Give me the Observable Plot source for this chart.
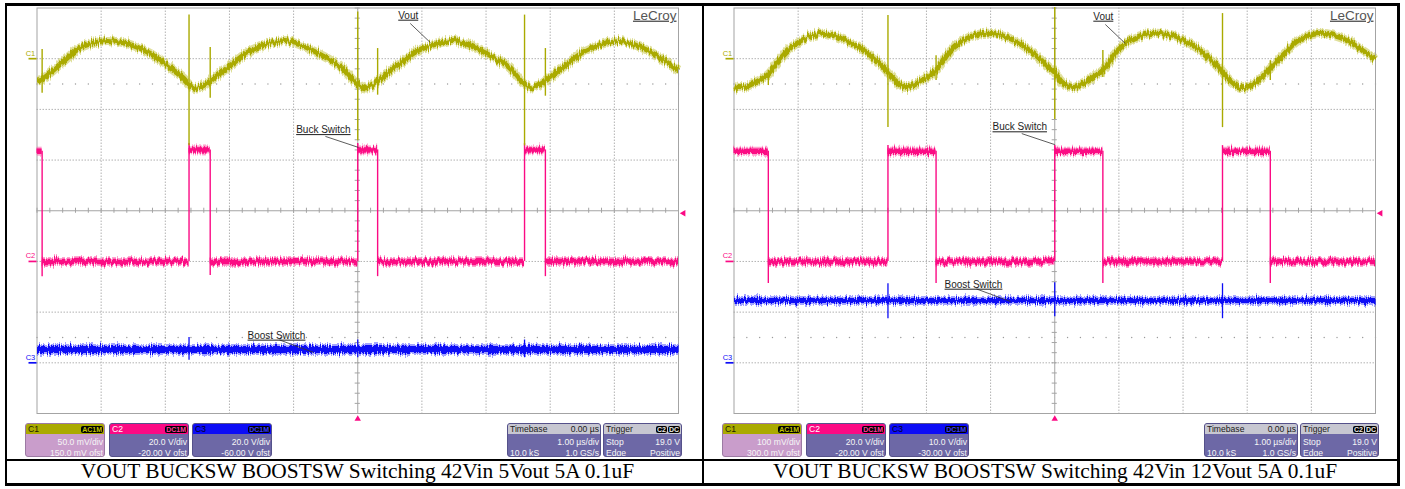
<!DOCTYPE html>
<html>
<head>
<meta charset="utf-8">
<script src="https://cdn.jsdelivr.net/npm/d3@7"></script>
<script src="https://cdn.jsdelivr.net/npm/@observablehq/plot@0.6"></script>
<style>
  html, body { margin: 0; padding: 0; background: #fff; }
  #page { position: relative; width: 1405px; height: 489px; overflow: hidden; font-family: "Liberation Sans", Arial, sans-serif; }
  .panel { position: absolute; top: 0; width: 700px; height: 460px; }
  .panel > svg { position: absolute; left: 0; top: 0; overflow: visible; }
  .box { position: absolute; top: 423px; height: 34px; border-radius: 3px; overflow: hidden; box-sizing: border-box;
         border: 1px solid #55518a; background: #6d68a6; color: #f6f6f6; font-size: 8.6px; }
  .box.c1 { background: #c99dcb; border-color: #9c7aa3; }
  .box .hd { position: absolute; left: 0; right: 0; top: 0; height: 10px; line-height: 10px; }
  .box .row { position: absolute; left: 0; right: 0; height: 11px; line-height: 11px; }
  .box .r1 { top: 13px; }
  .box .r2 { top: 24px; }
  .l { position: absolute; left: 2px; }
  .r { position: absolute; right: 1px; }
  .badge { position: absolute; top: 2px; height: 7px; line-height: 7px; background: #000; border-radius: 2px;
           font-size: 7px; font-weight: bold; padding: 0 1px; }
  .bar { position: absolute; background: #000; z-index: 5; }
  .cap { position: absolute; top: 460px; height: 22px; line-height: 22px; text-align: center;
         font-family: "Liberation Serif", "Times New Roman", serif; font-size: 21.4px; color: #000; white-space: nowrap; }
</style>
</head>
<body>
<div id="page">
  <div class="panel" id="panelL" style="left:0px"></div>
  <div class="panel" id="panelR" style="left:697px"></div>
</div>
<script>
// ---------- channel settings (scale per division, offset) ----------
const chanL = [
  {id: "C1", coupling: "AC1M", vdiv: 50, ofst: 150, scaleText: "50.0 mV/div", ofstText: "150.0 mV ofst"},
  {id: "C2", coupling: "DC1M", vdiv: 20, ofst: -20, scaleText: "20.0 V/div", ofstText: "-20.00 V ofst"},
  {id: "C3", coupling: "DC1M", vdiv: 20, ofst: -60, scaleText: "20.0 V/div", ofstText: "-60.00 V ofst"}
];
const chanR = [
  {id: "C1", coupling: "AC1M", vdiv: 100, ofst: 300, scaleText: "100 mV/div", ofstText: "300.0 mV ofst"},
  {id: "C2", coupling: "DC1M", vdiv: 20, ofst: -20, scaleText: "20.0 V/div", ofstText: "-20.00 V ofst"},
  {id: "C3", coupling: "DC1M", vdiv: 10, ofst: -30, scaleText: "10.0 V/div", ofstText: "-30.00 V ofst"}
];
const timebase = {delay: "0.00 µs", scale: "1.00 µs/div", samples: "10.0 kS", rate: "1.0 GS/s"};
const trigger = {src: "C2", coupling: "DC", mode: "Stop", level: 19.0, levelText: "19.0 V", type: "Edge", slope: "Positive"};
const captions = [
  "VOUT BUCKSW BOOSTSW Switching 42Vin 5Vout 5A 0.1uF",
  "VOUT BUCKSW BOOSTSW Switching 42Vin 12Vout 5A 0.1uF"
];

// ---------- 5 Vout capture: [time µs, value] ----------
const voutL = [ // mV (AC)
  [-5.00,-21],[-4.92,-20],[-4.63,-5],[-4.32,11],[-4.01,17],[-3.90,18],[-3.50,13],[-3.23,5],[-2.97,-7],[-2.72,-19],
  [-2.63,-25],[-2.50,-29],[-2.39,-26],[-2.30,-22],[-2.03,-9],[-1.67,8],[-1.31,16],[-1.14,18],[-0.91,14],[-0.58,4],[-0.27,-8],[-0.03,-24],
  [0.00,-25],[0.12,-29],[0.23,-26],[0.31,-22],[0.58,-9],[0.94,8],[1.31,16],[1.48,18],[1.71,14],[2.04,4],[2.35,-8],[2.57,-24],
  [2.60,-25],[2.72,-29],[2.83,-26],[2.925,-22],[3.19,-9],[3.55,8],[3.90,16],[4.08,18],[4.31,14],[4.64,4],[5.00,-12]
];
const voutSpikesL = [ // mV
  {t:-4.92, lo:-34, hi:9}, {t:-2.63, lo:-86, hi:43}, {t:-2.30, lo:-39, hi:11}, {t:0, lo:-81, hi:46},
  {t:0.31, lo:-36, hi:10}, {t:2.60, lo:-86, hi:43}, {t:2.925, lo:-37, hi:10}
];
const buckLevelsL = [ // V: [start µs, end µs, level]
  [-5.00,-4.92,43.5],[-4.92,-2.63,0],[-2.63,-2.30,44],[-2.30,0,0],[0,0.31,44],[0.31,2.60,0],[2.60,2.925,44],[2.925,5.00,0]
];
const buckEdgesL = [ // V
  {t:-4.92, lo:-6, hi:43.5}, {t:-2.63, lo:0, hi:46.5}, {t:-2.30, lo:-5.5, hi:44}, {t:0, lo:0, hi:46.5},
  {t:0.31, lo:-6, hi:44}, {t:2.60, lo:0, hi:46.5}, {t:2.925, lo:-6, hi:44}
];
const boostL = [[-5.00, 5.3], [5.00, 5.3]]; // V
const boostSpikesL = [{t:-2.63, lo:1, hi:10}, {t:0, lo:2, hi:9}, {t:2.60, lo:2, hi:9}];
const annoL = [
  {label: "Vout", ch: 0, t: 1.13, v: 16},
  {label: "Buck Switch", ch: 1, t: 0.01, v: 45},
  {label: "Boost Switch", ch: 2, t: -0.69, v: 4.1}
];

// ---------- 12 Vout capture ----------
const voutR = [ // mV (AC)
  [-5.00,-55],[-4.85,-57],[-4.72,-50],[-4.465,-31],[-4.28,0],[-4.07,26],[-3.65,50],[-3.26,36],[-2.95,14],[-2.71,-12],
  [-2.60,-27],[-2.45,-47],[-2.31,-57],[-2.12,-47],[-1.85,-23],[-1.62,16],[-1.37,40],[-1.03,50],[-0.63,36],[-0.35,12],[-0.07,-19],
  [0.00,-27],[0.12,-47],[0.29,-57],[0.45,-47],[0.75,-23],[0.98,16],[1.23,40],[1.60,50],[2.01,36],[2.27,16],[2.53,-13],
  [2.615,-27],[2.79,-49],[2.90,-57],[3.13,-47],[3.36,-19],[3.55,6],[3.80,36],[4.17,50],[4.55,36],[4.80,16],[5.00,-2]
];
const voutSpikesR = [ // mV
  {t:-4.465, lo:-53, hi:-23}, {t:-2.60, lo:-136, hi:85}, {t:-1.85, lo:-43, hi:6}, {t:0, lo:-120, hi:101},
  {t:0.75, lo:-37, hi:16}, {t:2.615, lo:-136, hi:89}, {t:3.36, lo:-43, hi:-4}
];
const buckLevelsR = [ // V
  [-5.00,-4.465,43.5],[-4.465,-2.60,0],[-2.60,-1.85,43.5],[-1.85,0,0],[0,0.75,43.5],[0.75,2.615,0],[2.615,3.36,43.5],[3.36,5.00,0]
];
const buckEdgesR = [ // V
  {t:-4.465, lo:-8.7, hi:43.5}, {t:-2.60, lo:0, hi:45.7}, {t:-1.85, lo:-8.7, hi:43.5}, {t:0, lo:0, hi:45.7},
  {t:0.75, lo:-8.7, hi:43.5}, {t:2.615, lo:0, hi:45.7}, {t:3.36, lo:-8.7, hi:43.5}
];
const boostR = [[-5.00, 12.3], [5.00, 12.3]]; // V
const boostSpikesR = [{t:-2.60, lo:8.7, hi:15.6}, {t:0, lo:9.1, hi:15.8}, {t:2.615, lo:8.7, hi:15.6}];
const annoR = [
  {label: "Vout", ch: 0, t: 1.10, v: 30},
  {label: "Buck Switch", ch: 1, t: 0, v: 46.1},
  {label: "Boost Switch", ch: 2, t: -0.69, v: 12.1}
];

// ---------- graticule ----------
const majorT = [-4, -3, -2, -1, 1, 2, 3, 4];
const majorDiv = [-3, -2, -1, 1, 2, 3];
const minorT = d3.range(-50, 51, 2).map(d => d / 10);
const minorDiv = d3.range(-40, 41, 2).map(d => d / 10);
const halfRows = [2.5, -2.5];

// ---------- styling ----------
const colors = ["#aaaa00", "#fb0a84", "#0c0cf6"];
const halo = ["#c6c64a", "#ff5aa8", "#5a5aff"];
const W = 700, H = 460, ML = 36.5, MR = 22, MT = 7.5, MB = 47;
const pxPerUs = (W - ML - MR) / 10, pxPerDiv = (H - MT - MB) / 8;
const annoLayout = { // label centre and leader start, px from the pointed sample
  "Vout": {tx: -22, ty: -27, lx: -20, ly: -19},
  "Buck Switch": {tx: -35, ty: -17.5, lx: -33, ly: -11},
  "Boost Switch": {tx: -37, ty: -17, lx: -34, ly: -12.5}
};
const font = "Liberation Sans, Arial, sans-serif";
const labelFont = "Liberation Sans, Arial, Helvetica, sans-serif"; // underlined labels
const BAND = 7; // stroke-miterlimit tag on the jittered trace bands

function scopePanel(cfg) {
  const {chans, vout, voutSpikes, buckLevels, buckEdges, boost, boostSpikes, anno, boostWidth, noiseId} = cfg;
  const div = (ch, v) => (v + chans[ch].ofst) / chans[ch].vdiv;
  const grid = "#b2b2b2", axisGrey = "#a4a4a4";
  const band = {strokeMiterlimit: BAND, strokeLinecap: "butt"};

  const annoPts = anno.map(a => {
    const L = annoLayout[a.label], y = div(a.ch, a.v);
    return {label: a.label, x: a.t, y,
      tx: a.t + L.tx / pxPerUs, ty: y - L.ty / pxPerDiv,
      lx: a.t + L.lx / pxPerUs, ly: y - L.ly / pxPerDiv};
  });

  const chanMarks = chans.flatMap((c, i) => {
    const m = [{y: c.ofst / c.vdiv, id: c.id}];
    return [
      Plot.ruleY(m, {y: "y", x1: -5 - 8 / pxPerUs, x2: -5, stroke: colors[i], strokeWidth: 1.7}),
      Plot.text(m, {x: -5, y: "y", text: "id", dx: -6.5, dy: -5.5, fontSize: 7.5, fill: colors[i], fontFamily: font})
    ];
  });

  const dotsRows = halfRows.flatMap(r => minorT.map(t => ({t, r})));

  const svg = Plot.plot({
    width: W, height: H, marginLeft: ML, marginRight: MR, marginTop: MT, marginBottom: MB,
    x: {domain: [-5, 5], axis: null},
    y: {domain: [-4, 4], axis: null},
    style: {background: "transparent", overflow: "visible"},
    marks: [
      // graticule
      Plot.ruleX(majorT, {stroke: grid, strokeDasharray: "1.5,1.5"}),
      Plot.ruleY(majorDiv, {stroke: grid, strokeDasharray: "1.5,1.5"}),
      Plot.dot(dotsRows, {x: "t", y: "r", r: 0.7, fill: "#9a9a9a", stroke: null}),
      Plot.ruleX([0], {stroke: axisGrey}),
      Plot.ruleY([0], {stroke: axisGrey}),
      Plot.ruleX(minorT, {y1: -0.05, y2: 0.05, stroke: axisGrey}),
      Plot.ruleY(minorDiv, {x1: -0.04, x2: 0.04, stroke: axisGrey}),
      Plot.frame({stroke: axisGrey}),

      // C3 boost switch node
      Plot.line(boost, {x: d => d[0], y: d => div(2, d[1]), stroke: halo[2], strokeOpacity: 0.55, strokeWidth: boostWidth + 4, ...band}),
      Plot.line(boost, {x: d => d[0], y: d => div(2, d[1]), stroke: colors[2], strokeWidth: boostWidth, ...band}),
      Plot.ruleX(boostSpikes, {x: "t", y1: d => div(2, d.lo), y2: d => div(2, d.hi), stroke: colors[2], strokeWidth: 1.3}),

      // C2 buck switch node
      Plot.ruleY(buckLevels, {y: d => div(1, d[2]), x1: d => d[0], x2: d => d[1], stroke: halo[1], strokeOpacity: 0.55, strokeWidth: 9, ...band}),
      Plot.ruleY(buckLevels, {y: d => div(1, d[2]), x1: d => d[0], x2: d => d[1], stroke: colors[1], strokeWidth: 5.5, ...band}),
      Plot.ruleX(buckEdges, {x: "t", y1: d => div(1, d.lo), y2: d => div(1, d.hi), stroke: colors[1], strokeWidth: 1.4}),

      // C1 output ripple
      Plot.line(vout, {x: d => d[0], y: d => div(0, d[1]), curve: "catmull-rom", stroke: halo[0], strokeOpacity: 0.55, strokeWidth: 9, ...band}),
      Plot.line(vout, {x: d => d[0], y: d => div(0, d[1]), curve: "catmull-rom", stroke: colors[0], strokeWidth: 5, ...band}),
      Plot.ruleX(voutSpikes, {x: "t", y1: d => div(0, d.lo), y2: d => div(0, d.hi), stroke: colors[0], strokeWidth: 1.4}),

      // channel ground markers
      ...chanMarks,

      // trigger position and level
      Plot.dot([trigger], {x: 0, y: -4, dy: 5.5, symbol: "triangle", r: 2.4, fill: colors[1], stroke: null}),
      Plot.dot([trigger], {x: 5, y: div(1, trigger.level), dx: 5, symbol: "triangle", rotate: -90, r: 2.4, fill: colors[1], stroke: null}),

      // trace labels
      Plot.link(annoPts, {x1: "lx", y1: "ly", x2: "x", y2: "y", stroke: "#333", strokeWidth: 0.8}),
      Plot.text(annoPts, {x: "tx", y: "ty", text: "label", fontSize: 10, fill: "#1e1e1e", fontFamily: labelFont}),

      Plot.text(["LeCroy"], {frameAnchor: "top-right", dx: -2, dy: 2, textAnchor: "end", lineAnchor: "top", fontSize: 13.5, fill: "#555555", fontFamily: labelFont})
    ]
  });

  // scope-style vertical jitter on the trace bands
  const s = d3.select(svg);
  const f = s.insert("defs", ":first-child").append("filter")
    .attr("id", noiseId).attr("filterUnits", "userSpaceOnUse")
    .attr("x", 0).attr("y", 0).attr("width", W).attr("height", H);
  f.append("feTurbulence").attr("type", "fractalNoise").attr("baseFrequency", "0.9 0.04")
    .attr("numOctaves", 2).attr("seed", noiseId === "noiseL" ? 3 : 11).attr("result", "n");
  f.append("feColorMatrix").attr("in", "n").attr("type", "matrix")
    .attr("values", "0 0 0 0 0.5  0 1 0 0 0  0 0 0 0 0  0 0 0 0 1").attr("result", "m");
  f.append("feDisplacementMap").attr("in", "SourceGraphic").attr("in2", "m").attr("scale", 9)
    .attr("xChannelSelector", "R").attr("yChannelSelector", "G");
  s.selectAll(`g[stroke-miterlimit="${BAND}"]`).attr("filter", `url(#${noiseId})`);
  s.selectAll(`g[font-family="${labelFont}"] text`).style("text-decoration", "underline");
  return svg;
}

// info boxes along the bottom of the screen
function infoBoxes(container, chans) {
  const chanX = [25, 109, 192];
  const hdText = ["#1b1b00", "#ffffff", "#000018"];
  const badgeText = ["#c2c200", "#ff3d9e", "#3a3aff"];
  chans.forEach((c, i) => {
    const b = document.createElement("div");
    b.className = "box" + (i === 0 ? " c1" : "");
    b.style.left = chanX[i] + "px";
    b.style.width = "80px";
    b.innerHTML =
      `<div class="hd" style="background:${colors[i]}"><span class="l" style="color:${hdText[i]}">${c.id}</span>` +
      `<span class="badge" style="right:1px;color:${badgeText[i]}">${c.coupling}</span></div>` +
      `<div class="row r1"><span class="r">${c.scaleText}</span></div>` +
      `<div class="row r2"><span class="r">${c.ofstText}</span></div>`;
    container.appendChild(b);
  });
  const tb = document.createElement("div");
  tb.className = "box";
  tb.style.left = "507px"; tb.style.width = "94px";
  tb.innerHTML =
    `<div class="hd" style="background:#c7c7d1;color:#202020"><span class="l">Timebase</span><span class="r">${timebase.delay}</span></div>` +
    `<div class="row r1"><span class="r">${timebase.scale}</span></div>` +
    `<div class="row r2"><span class="l">${timebase.samples}</span><span class="r">${timebase.rate}</span></div>`;
  container.appendChild(tb);
  const tr = document.createElement("div");
  tr.className = "box";
  tr.style.left = "603px"; tr.style.width = "79px";
  tr.innerHTML =
    `<div class="hd" style="background:#c7c7d1;color:#202020"><span class="l">Trigger</span>` +
    `<span class="badge" style="right:14px;color:#e8e8e8">${trigger.src}</span><span class="badge" style="right:1px;color:#e8e8e8">${trigger.coupling}</span></div>` +
    `<div class="row r1"><span class="l">${trigger.mode}</span><span class="r">${trigger.levelText}</span></div>` +
    `<div class="row r2"><span class="l">${trigger.type}</span><span class="r">${trigger.slope}</span></div>`;
  container.appendChild(tr);
}

const pL = document.getElementById("panelL");
const pR = document.getElementById("panelR");
pL.appendChild(scopePanel({chans: chanL, vout: voutL, voutSpikes: voutSpikesL, buckLevels: buckLevelsL, buckEdges: buckEdgesL,
  boost: boostL, boostSpikes: boostSpikesL, anno: annoL, boostWidth: 7, noiseId: "noiseL"}));
pR.appendChild(scopePanel({chans: chanR, vout: voutR, voutSpikes: voutSpikesR, buckLevels: buckLevelsR, buckEdges: buckEdgesR,
  boost: boostR, boostSpikes: boostSpikesR, anno: annoR, boostWidth: 5, noiseId: "noiseR"}));
infoBoxes(pL, chanL);
infoBoxes(pR, chanR);

// table rules and caption row
const page = document.getElementById("page");
[
  {l: 5, t: 3, w: 1395, h: 3}, {l: 5, t: 483, w: 1395, h: 3}, {l: 5, t: 3, w: 2, h: 483},
  {l: 1397, t: 3, w: 3, h: 483}, {l: 702, t: 3, w: 2, h: 483}, {l: 5, t: 459, w: 1395, h: 2}
].forEach(r => {
  const d = document.createElement("div");
  d.className = "bar";
  Object.assign(d.style, {left: r.l + "px", top: r.t + "px", width: r.w + "px", height: r.h + "px"});
  page.appendChild(d);
});
[{l: 10, w: 695}, {l: 707, w: 696}].forEach((c, i) => {
  const d = document.createElement("div");
  d.className = "cap";
  d.style.left = c.l + "px"; d.style.width = c.w + "px";
  d.textContent = captions[i];
  page.appendChild(d);
});
</script>
</body>
</html>
